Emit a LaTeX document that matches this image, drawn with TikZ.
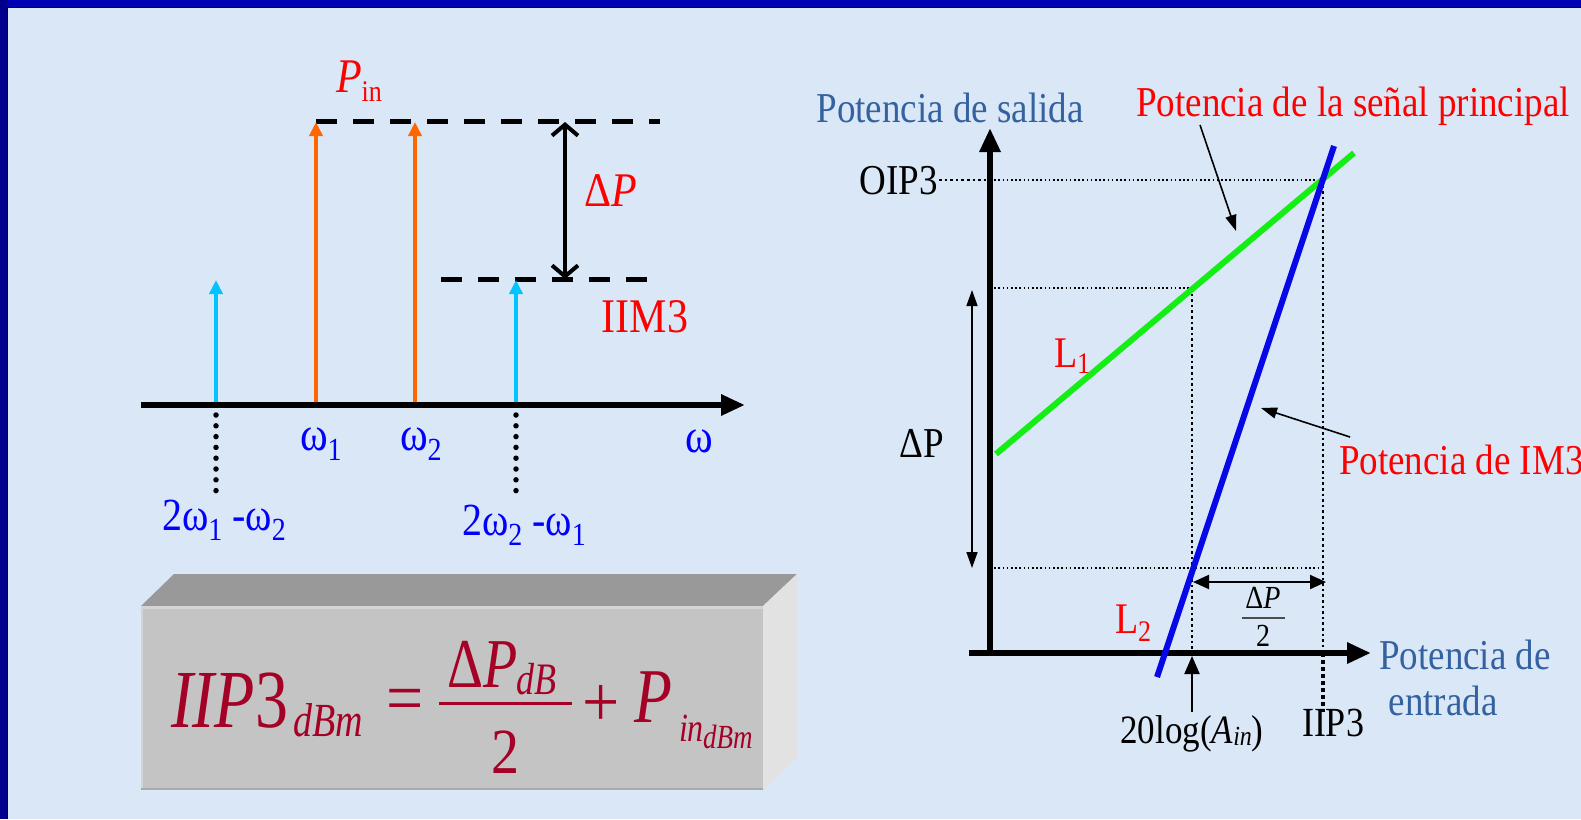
\documentclass[tikz,border=0pt]{standalone}
\usepackage{fontspec}
\usepackage{graphicx}
\setmainfont{Liberation Serif}
\usetikzlibrary{arrows.meta}
\definecolor{bgblue}{RGB}{218,231,246}
\definecolor{frameblue}{RGB}{0,0,180}
\definecolor{frameleft}{RGB}{0,0,140}
\definecolor{steel}{RGB}{52,98,160}
\definecolor{sigorange}{RGB}{255,102,0}
\definecolor{sigcyan}{RGB}{0,195,255}
\definecolor{lgreen}{RGB}{20,238,20}
\definecolor{lblue}{RGB}{8,8,230}
\definecolor{fred}{RGB}{165,0,38}
\definecolor{boxfront}{RGB}{196,196,196}
\definecolor{boxtop}{RGB}{153,153,153}
\definecolor{boxside}{RGB}{226,226,226}
\definecolor{boxlight}{RGB}{212,212,212}
\definecolor{boxdark}{RGB}{170,170,170}
\definecolor{pblue}{RGB}{0,0,255}
\newcommand{\fs}[1]{\fontsize{#1}{#1}\selectfont}
\newcommand{\tall}[1]{\scalebox{1}[1.15]{#1}}
\begin{document}
\begin{tikzpicture}[x=1pt,y=-1pt,
  txt/.style={inner sep=0pt,outer sep=0pt},
  sigarrow/.style={line width=4pt,-{Triangle[length=14pt,width=13pt]}},
  dashref/.style={line width=5pt,dash pattern=on 21pt off 16pt},
  thickaxis/.style={line width=6pt,-{Triangle[length=24pt,width=20pt]}},
  thindot/.style={line width=1.6pt,dash pattern=on 1.6pt off 2.6pt},
  meddot/.style={line width=2.6pt,dash pattern=on 2.6pt off 3pt},
  bigdot/.style={line width=5.5pt,line cap=round,dash pattern=on 0pt off 10.8pt},
  thinarrow/.style={line width=1.6pt,-{Triangle[length=16pt,width=11pt]}},
  thindouble/.style={line width=1.6pt,{Triangle[length=16pt,width=11pt]}-{Triangle[length=16pt,width=11pt]}},
  ]
\useasboundingbox (0,0) rectangle (1581,819);
% background and frame
\fill[bgblue] (0,0) rectangle (1581,819);
\fill[frameblue] (0,0) rectangle (1581,7);
\fill[frameleft] (0,0) rectangle (7,819);
\draw[black,line width=1.2pt] (7.6,819) -- (7.6,7.6) -- (1581,7.6);

% ================= LEFT PANEL =================
\coordinate (c1b) at (216,405); \coordinate (c1t) at (216,280);
\coordinate (o1b) at (316,405); \coordinate (o1t) at (316,122);
\coordinate (o2b) at (415,405); \coordinate (o2t) at (415,122);
\coordinate (c2b) at (516,405); \coordinate (c2t) at (516,280);
\coordinate (topdL) at (316,121); \coordinate (topdR) at (660,121);
\coordinate (lowdL) at (441,279); \coordinate (lowdR) at (652,279);
\coordinate (dpT) at (565,122); \coordinate (dpB) at (565,279);
\coordinate (axL) at (141,405); \coordinate (axR) at (745,405);
\coordinate (d1a) at (216,415); \coordinate (d1b) at (216,492);
\coordinate (d2a) at (516,415); \coordinate (d2b) at (516,492);

\draw[dashref] (topdL) -- (topdR);
\draw[dashref] (lowdL) -- (lowdR);
\draw[sigarrow,sigcyan] (c1b) -- (c1t);
\draw[sigarrow,sigcyan] (c2b) -- (c2t);
\draw[sigarrow,sigorange] (o1b) -- (o1t);
\draw[sigarrow,sigorange] (o2b) -- (o2t);
\draw[line width=4pt,{Straight Barb[length=11pt,width=26pt]}-{Straight Barb[length=11pt,width=26pt]}] (dpT) -- (dpB);
\draw[thickaxis] (axL) -- (axR);
\draw[bigdot] (d1a) -- (d1b);
\draw[bigdot] (d2a) -- (d2b);

\node[txt,anchor=base west,red] (pin) at (336,92) {\tall{\fs{42}\textit{P}\raisebox{-8pt}{\fs{26}in}}};
\node[txt,anchor=center,red] (dpl) at (611,191) {\tall{\fs{42}Δ\textit{P}}};
\node[txt,anchor=center,red] (iim) at (645,317) {\tall{\fs{42}IIM3}};
\node[txt,anchor=base west,pblue] (w1) at (300,450) {\tall{\fs{42}ω\raisebox{-9pt}{\fs{28}1}}};
\node[txt,anchor=base west,pblue] (w2) at (400,450) {\tall{\fs{42}ω\raisebox{-9pt}{\fs{28}2}}};
\node[txt,anchor=base west,pblue] (w) at (685,452) {\tall{\fs{42}ω}};
\node[txt,anchor=base west,pblue] (im1) at (162,530) {\tall{\fs{40}2ω\raisebox{-9pt}{\fs{28}1} -ω\raisebox{-9pt}{\fs{28}2}}};
\node[txt,anchor=base west,pblue] (im2) at (462,535) {\tall{\fs{40}2ω\raisebox{-9pt}{\fs{28}2} -ω\raisebox{-9pt}{\fs{28}1}}};

% 3D box with formula
\fill[boxtop] (141,606) -- (174,574) -- (797,574) -- (763,606) -- cycle;
\fill[boxside] (763,606) -- (797,574) -- (797,758) -- (763,790) -- cycle;
\fill[boxfront] (141,606) rectangle (763,790);
\draw[boxlight,line width=2.5pt] (141,607.5) -- (763,607.5);
\draw[boxlight,line width=2pt] (142,607) -- (142,790);
\draw[boxdark,line width=2pt] (141,789) -- (763,789);

\node[txt,anchor=base west,fred] (f1) at (171,727) {\scalebox{1}[1.25]{\fs{66}\textit{IIP}3}};
\node[txt,anchor=base west,fred] (f2) at (293,736) {\scalebox{1}[1.25]{\fs{38}\textit{dBm}}};
\node[txt,anchor=center,fred] (f3) at (405,706) {\scalebox{1}[1.1]{\fs{66}=}};
\node[txt,anchor=base west,fred] (f4) at (447,687) {\scalebox{1}[1.25]{\fs{56}Δ\textit{P}}};
\node[txt,anchor=base west,fred] (f5) at (516,694) {\scalebox{1}[1.25]{\fs{36}\textit{dB}}};
\draw[fred,line width=3pt] (439,703) -- (572,703);
\node[txt,anchor=base,fred] (f6) at (505,773) {\scalebox{1}[1.15]{\fs{56}2}};
\node[txt,anchor=center,fred] (f7) at (601,706) {\scalebox{1}[1.1]{\fs{66}+}};
\node[txt,anchor=base west,fred] (f8) at (634,722) {\scalebox{1}[1.25]{\fs{62}\textit{P}}};
\node[txt,anchor=base west,fred] (f9) at (679,741) {\scalebox{1}[1.25]{\fs{32}\textit{in}}};
\node[txt,anchor=base west,fred] (f10) at (703,748) {\scalebox{1}[1.25]{\fs{27}\textit{dBm}}};

% ================= RIGHT PANEL =================
\coordinate (vaB) at (990,656); \coordinate (vaT) at (990,128);
\coordinate (haL) at (969,653); \coordinate (haR) at (1371,653);
\coordinate (gA) at (996,454); \coordinate (gB) at (1354,153);
\coordinate (bA) at (1157,677); \coordinate (bB) at (1334,146);
\coordinate (ip) at (1323,180);
\coordinate (oipL) at (939,180); \coordinate (oipA) at (990,180);
\coordinate (y288) at (990,288); \coordinate (g288) at (1192,288);
\coordinate (x1192) at (1192,653);
\coordinate (y568) at (990,568); \coordinate (r568) at (1323,568);
\coordinate (ipAx) at (1323,653); \coordinate (ipLo) at (1323,712);

\draw[thindot] (oipA) -- (ip);
\draw[meddot] (oipL) -- (oipA);
\draw[thindot] (y288) -- (g288);
\draw[meddot] (g288) -- (x1192);
\draw[thindot] (y568) -- (r568);
\draw[meddot] (ip) -- (ipAx);
\draw[line width=3.5pt,dash pattern=on 4pt off 3pt] (ipAx) -- (ipLo);

\draw[thickaxis] (vaB) -- (vaT);
\draw[thickaxis] (haL) -- (haR);
\draw[lgreen,line width=6pt] (gA) -- (gB);
\draw[lblue,line width=6pt] (bA) -- (bB);

\coordinate (dpaT) at (972,290); \coordinate (dpaB) at (972,568);
\draw[thindouble] (dpaT) -- (dpaB);
\coordinate (hdL) at (1193,582); \coordinate (hdR) at (1326,582);
\draw[line width=2pt,{Triangle[length=16pt,width=14pt]}-{Triangle[length=16pt,width=14pt]}] (hdL) -- (hdR);
\coordinate (upB) at (1192,712); \coordinate (upT) at (1192,656);
\draw[line width=2pt,-{Triangle[length=18pt,width=15pt]}] (upB) -- (upT);

\node[txt,anchor=center,steel] (ps) at (950,108) {\tall{\fs{37}Potencia de salida}};
\node[txt,anchor=center,red] (psp) at (1353,106) {\tall{\fs{37}Potencia de la señal principal}};
\node[txt,anchor=east] (oip) at (938,181) {\tall{\fs{37}OIP3}};
\node[txt,anchor=center] (dpr) at (922,443) {\tall{\fs{37}ΔP}};
\node[txt,anchor=base west,red] (l1) at (1054,367) {\tall{\fs{38}L\raisebox{-6pt}{\fs{26}1}}};
\node[txt,anchor=base west,red] (l2) at (1115,633) {\tall{\fs{38}L\raisebox{-7pt}{\fs{26}2}}};
\node[txt,anchor=west,red] (pim) at (1339,460) {\tall{\fs{37}Potencia de IM3}};
\node[txt,anchor=center,steel] (pe1) at (1465,655) {\tall{\fs{37}Potencia de}};
\node[txt,anchor=center,steel] (pe2) at (1443,701) {\tall{\fs{37}entrada}};
\node[txt,anchor=center] (iip) at (1333,723) {\tall{\fs{36}IIP3}};
\node[txt,anchor=center] (alog) at (1192,734) {\tall{\fs{35}20log(\textit{A}\raisebox{-2pt}{\fs{24}\textit{in}})}};
\node[txt,anchor=base] (hn) at (1263,608) {\tall{\fs{28}Δ\textit{P}}};
\draw[line width=1.5pt,black!70] (1242,618) -- (1285,618);
\node[txt,anchor=base] (hd) at (1263,646) {\tall{\fs{28}2}};

\coordinate (a1s) at (1200,125); \coordinate (a1e) at (1236,231);
\draw[thinarrow] (a1s) -- (a1e);
\coordinate (a2s) at (1350,437); \coordinate (a2e) at (1261,408);
\draw[thinarrow] (a2s) -- (a2e);
\end{tikzpicture}
\end{document}
